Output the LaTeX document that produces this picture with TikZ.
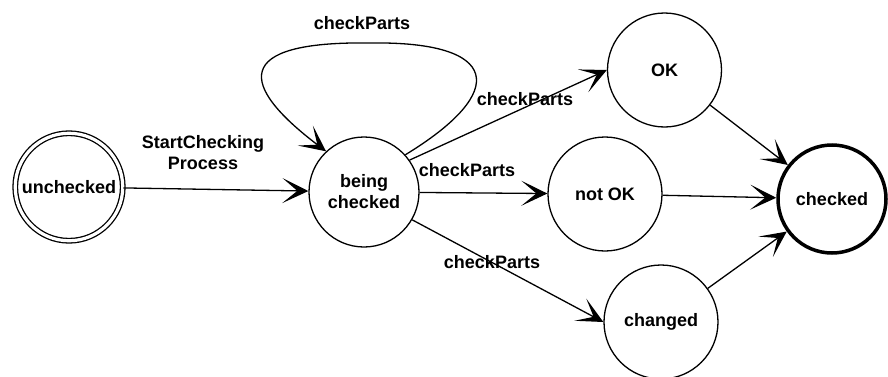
\documentclass[tikz,border=0pt]{standalone}
\usepackage{fontspec}
\setmainfont{Liberation Sans}
\usetikzlibrary{arrows.meta}
\newcommand\diagfont{\fontsize{18}{21}\selectfont\bfseries}
\begin{document}
\begin{tikzpicture}[x=1pt,y=1pt,
  state/.style={circle, draw, line width=1.3pt, minimum size=114pt,
    inner sep=0pt, font=\diagfont, align=center},
  trans/.style={line width=1.3pt,
    -{Stealth[length=26pt,width=25pt,inset=15pt]}},
  lbl/.style={font=\diagfont, align=center, inner sep=0pt}]
  \useasboundingbox (0,0) rectangle (888,376);

  % states
  \node[state, double, double distance=3.2pt, minimum size=107.5pt] (unchecked) at (69,189) {unchecked};
  \node[state, minimum size=110pt] (bc) at (364,184) {being\\checked};
  \node[state] (ok) at (664.5,306) {OK};
  \node[state] (notok) at (605,182) {not OK};
  \node[state] (changed) at (661,54) {changed};
  \node[state, line width=3.5pt, minimum size=108pt] (checked) at (832,177) {checked};

  % transitions
  \draw[trans] (unchecked) -- (bc);
  \draw[trans] (bc.42) .. controls (510,285) and (500,335) .. (370,333)
                       .. controls (230,335) and (240,290) .. (bc.133);
  \draw[trans] (bc.35) -- (ok.west);
  \draw[trans] (bc) -- (notok);
  \draw[trans] (bc.-30) -- (changed.west);
  \draw[trans] (ok) -- (checked);
  \draw[trans] (notok) -- (checked);
  \draw[trans] (changed) -- (checked);

  % transition labels
  \node[lbl] (lstart) at (203,223.5) {StartChecking\\Process};
  \node[lbl] (lloop) at (362,353) {checkParts};
  \node[lbl] (lok) at (525,277) {checkParts};
  \node[lbl] (lnotok) at (467,206) {checkParts};
  \node[lbl] (lchanged) at (492,114) {checkParts};
\end{tikzpicture}
\end{document}
